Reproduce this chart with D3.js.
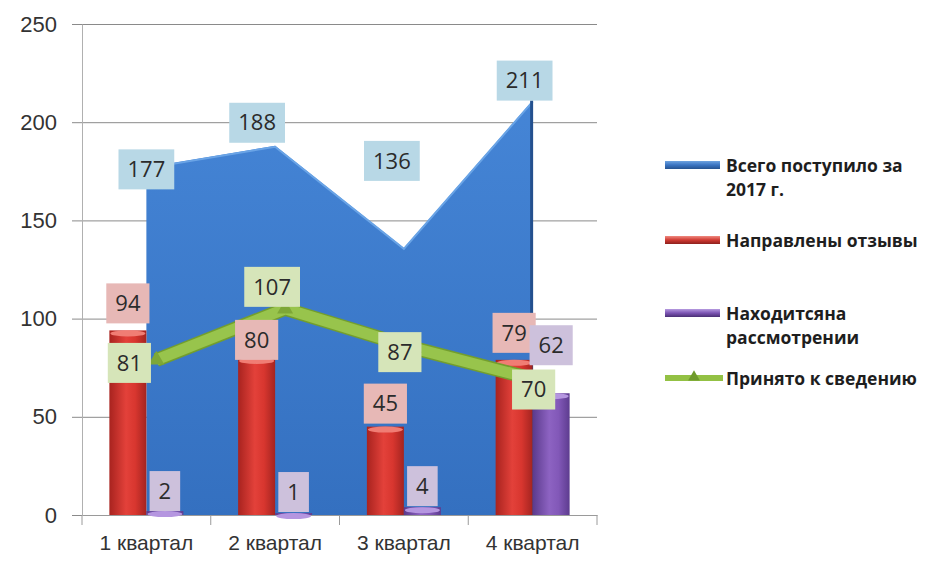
<!DOCTYPE html>
<html>
<head>
<meta charset="utf-8">
<script src="https://cdn.jsdelivr.net/npm/d3@7/dist/d3.min.js"></script>
<style>
  body { margin: 0; background: #fff; }
  svg { display: block; font-family: "Open Sans", sans-serif; }
  .axis text { fill: #333; font-size: 22px; }
  .axis.x text { font-size: 21px; }
  .vlabel { font-size: 22px; fill: #2b2b2b; }
  .legend-text { font-size: 17.5px; font-weight: 700; fill: #1e1e1e; }
</style>
</head>
<body>
<div class="viz"></div>
<script>
// data
var quarters = ["1 квартал", "2 квартал", "3 квартал", "4 квартал"];
var totalReceived = [177, 188, 136, 211];
var reviewsSent = [94, 80, 45, 79];
var underReview = [2, 1, 4, 62];
var acknowledged = [81, 107, 87, 70];
var yTicks = [0, 50, 100, 150, 200, 250];
var legendLines = [
  ["Всего поступило за", "2017 г."],
  ["Направлены отзывы"],
  ["Находитсяна", "рассмотрении"],
  ["Принято к сведению"]
];

// label nudges (px) relative to their anchor point
var nudgeTotal = [[0, 2], [-18, -23], [-12, -87], [-8, -20]];
var nudgeSent = [[0, -27], [0, -18], [0, -23], [0, -27]];
var nudgeReview = [[0, -20], [0, -21], [0, -21], [0, -48]];
var nudgeAck = [[-17, 7], [-3, -18], [-4, 8], [1, 12]];

var width = 931, height = 562;
var plot = { left: 82, right: 597, top: 24, bottom: 515 };

var svg = d3.select(".viz").append("svg")
  .attr("width", width)
  .attr("height", height);

var yScale = d3.scaleLinear().domain([0, 250]).range([plot.bottom, plot.top]);
var xScale = d3.scaleBand().domain(quarters).range([plot.left, plot.right]);
var bw = 37;
var subScale = d3.scaleBand().domain(["sent", "review"])
  .range([-bw, bw]);
var cx = function(i) { return xScale(quarters[i]) + xScale.bandwidth() / 2; };

// gradients
var defs = svg.append("defs");
function hGrad(id, stops) {
  var g = defs.append("linearGradient").attr("id", id)
    .attr("x1", "0%").attr("x2", "100%").attr("y1", "0%").attr("y2", "0%");
  stops.forEach(function(s) {
    g.append("stop").attr("offset", s[0]).attr("stop-color", s[1]);
  });
}
function vGrad(id, stops) {
  var g = defs.append("linearGradient").attr("id", id)
    .attr("x1", "0%").attr("x2", "0%").attr("y1", "0%").attr("y2", "100%");
  stops.forEach(function(s) {
    g.append("stop").attr("offset", s[0]).attr("stop-color", s[1]);
  });
}
vGrad("blueArea", [["0%", "#4585d6"], ["100%", "#3470c0"]]);
hGrad("redBar", [["0%", "#a8231f"], ["45%", "#e3413a"], ["70%", "#d8362f"], ["100%", "#a42420"]]);
hGrad("purpleBar", [["0%", "#5b3a8c"], ["45%", "#8d63c2"], ["70%", "#8258b8"], ["100%", "#5d3c8f"]]);
vGrad("blueKey", [["0%", "#6ea3e0"], ["50%", "#3a74c2"], ["100%", "#25528f"]]);
vGrad("redKey", [["0%", "#f08a80"], ["50%", "#cf3a33"], ["100%", "#8e201c"]]);
vGrad("purpleKey", [["0%", "#b69be0"], ["50%", "#7c55b4"], ["100%", "#4a2f75"]]);

// y grid + axis
var gGrid = svg.append("g")
  .attr("class", "grid")
  .attr("transform", "translate(" + plot.left + ",0)")
  .call(d3.axisLeft(yScale).tickValues(yTicks.slice(1))
    .tickSize(-(plot.right - plot.left)).tickSizeOuter(0).tickFormat(""));
gGrid.select(".domain").remove();
gGrid.selectAll("line").attr("stroke", "#8a8a8a");

var gY = svg.append("g")
  .attr("class", "axis y")
  .attr("transform", "translate(" + plot.left + ",0)")
  .call(d3.axisLeft(yScale).tickValues(yTicks).tickSize(10).tickSizeOuter(0).tickPadding(15));
gY.select(".domain").attr("stroke", "#b0b0b0");
gY.selectAll("line").attr("stroke", "#8a8a8a");

// blue area
var areaGen = d3.area()
  .x(function(d, i) { return cx(i); })
  .y0(yScale(0))
  .y1(function(d) { return yScale(d); });
svg.append("path")
  .datum(totalReceived)
  .attr("d", areaGen)
  .attr("fill", "url(#blueArea)");
svg.append("path")
  .datum(totalReceived)
  .attr("d", d3.line().x(function(d, i) { return cx(i); }).y(function(d) { return yScale(d) + 1; }))
  .attr("fill", "none")
  .attr("stroke", "#6aa4e6")
  .attr("stroke-width", 2);
svg.append("line")
  .attr("x1", cx(3) - 1).attr("x2", cx(3) - 1)
  .attr("y1", yScale(totalReceived[3])).attr("y2", yScale(0))
  .attr("stroke", "#24508e").attr("stroke-width", 3);

// x axis
var gX = svg.append("g")
  .attr("class", "axis x")
  .attr("transform", "translate(0," + plot.bottom + ")")
  .call(d3.axisBottom(xScale).tickSize(0).tickPadding(20));
gX.select(".domain").attr("stroke", "#9a9a9a");
gX.selectAll(".edge")
  .data(quarters.map(function(q) { return xScale(q); }).concat([plot.right]))
  .enter().append("line")
  .attr("x1", function(d) { return d; }).attr("x2", function(d) { return d; })
  .attr("y1", 0).attr("y2", 10)
  .attr("stroke", "#9a9a9a");

// bars
function drawBars(values, key, fill, cap) {
  var g = svg.append("g");
  g.selectAll("rect").data(values).enter().append("rect")
    .attr("x", function(d, i) { return cx(i) + subScale(key); })
    .attr("y", function(d) { return yScale(d); })
    .attr("width", subScale.bandwidth())
    .attr("height", function(d) { return yScale(0) - yScale(d); })
    .attr("fill", fill);
  g.selectAll("ellipse").data(values).enter().append("ellipse")
    .attr("cx", function(d, i) { return cx(i) + subScale(key) + subScale.bandwidth() / 2; })
    .attr("cy", function(d) { return yScale(d) + 3; })
    .attr("rx", subScale.bandwidth() / 2 - 1)
    .attr("ry", 3)
    .attr("fill", cap);
}
drawBars(reviewsSent, "sent", "url(#redBar)", "#f07d74");
drawBars(underReview, "review", "url(#purpleBar)", "#b596e0");

// green line
var lineGen = d3.line()
  .x(function(d, i) { return cx(i) + 10; })
  .y(function(d) { return yScale(d) + 4; });
svg.append("path").datum(acknowledged).attr("d", lineGen)
  .attr("fill", "none").attr("stroke", "#739e2e").attr("stroke-width", 14)
  .attr("stroke-linejoin", "round");
svg.append("path").datum(acknowledged).attr("d", lineGen)
  .attr("fill", "none").attr("stroke", "#98c44c").attr("stroke-width", 11)
  .attr("stroke-linejoin", "round");
svg.append("g").selectAll("path").data(acknowledged).enter().append("path")
  .attr("d", d3.symbol().type(d3.symbolTriangle).size(110))
  .attr("transform", function(d, i) { return "translate(" + (cx(i) + 10) + "," + (yScale(d) + 4) + ")"; })
  .attr("fill", "#7ea737");

// value labels
function drawLabels(values, anchorX, nudges, boxColor) {
  var g = svg.append("g");
  values.forEach(function(v, i) {
    var x = anchorX(i) + nudges[i][0];
    var y = yScale(v) + nudges[i][1];
    var lg = g.append("g").attr("transform", "translate(" + x + "," + y + ")");
    var rect = lg.append("rect").attr("fill", boxColor);
    var t = lg.append("text").attr("class", "vlabel")
      .attr("text-anchor", "middle").attr("dy", "0.35em").text(v);
    var w = t.node().getComputedTextLength() + 18;
    rect.attr("x", -w / 2).attr("y", -20).attr("width", w).attr("height", 40);
  });
}
drawLabels(totalReceived, cx, nudgeTotal, "#b8d8e6");
drawLabels(reviewsSent, function(i) { return cx(i) + subScale("sent") + subScale.bandwidth() / 2; }, nudgeSent, "#e7b8b6");
drawLabels(underReview, function(i) { return cx(i) + subScale("review") + subScale.bandwidth() / 2; }, nudgeReview, "#cdc1dc");
drawLabels(acknowledged, cx, nudgeAck, "#d6e5b9");

// legend
var legendY = [165, 240, 313, 378];
var keyFills = ["url(#blueKey)", "url(#redKey)", "url(#purpleKey)"];
var legend = svg.append("g").selectAll("g")
  .data(legendLines).enter().append("g")
  .attr("class", "legend")
  .attr("transform", function(d, i) { return "translate(665," + legendY[i] + ")"; });
legend.each(function(d, i) {
  var g = d3.select(this);
  if (i < 3) {
    g.append("rect").attr("x", 0).attr("y", -4).attr("width", 55).attr("height", 8)
      .attr("fill", keyFills[i]);
  } else {
    g.append("line").attr("x1", 0).attr("x2", 58).attr("y1", 0).attr("y2", 0)
      .attr("stroke", "#93c144").attr("stroke-width", 6);
    g.append("path").attr("d", d3.symbol().type(d3.symbolTriangle).size(60))
      .attr("transform", "translate(29,-1)").attr("fill", "#6f9a2b");
  }
  g.selectAll("text").data(d).enter().append("text")
    .attr("class", "legend-text")
    .attr("x", 61)
    .attr("y", function(line, j) { return 7 + j * 24; })
    .text(function(line) { return line; });
});
</script>
</body>
</html>
